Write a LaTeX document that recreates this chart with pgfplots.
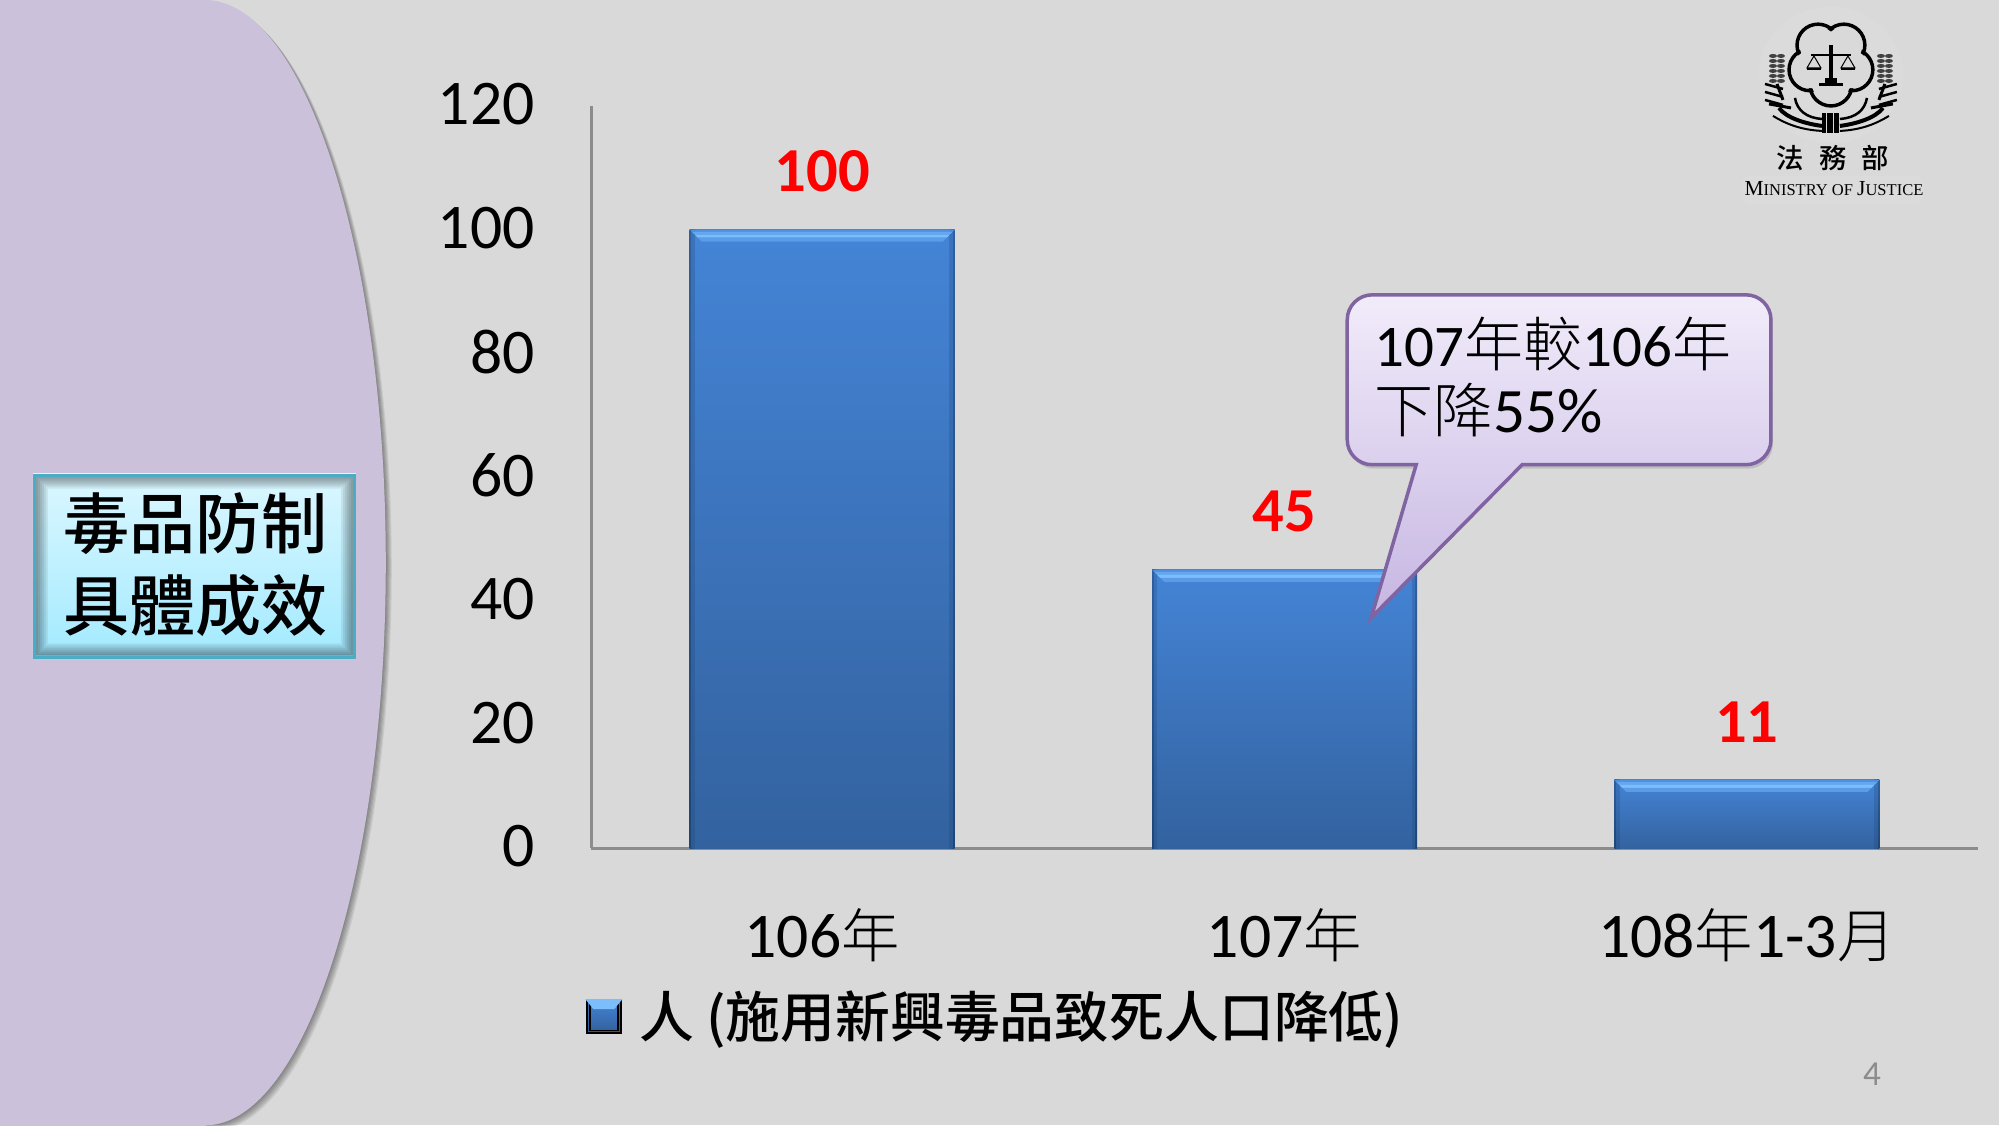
\documentclass[border=0pt]{standalone}
\usepackage{fontspec}
\usepackage{pgfplots}
\pgfplotsset{compat=1.18}
\setmainfont{Carlito}
\newfontfamily\cjk{Noto Sans CJK TC Light}
\newfontfamily\cjkm{Noto Sans CJK TC Medium}
\newfontfamily\logocjk{Noto Sans CJK TC Medium}
\newfontfamily\logoserif{Liberation Serif}
\newcommand{\cj}[1]{{\cjk #1}}
\newcommand{\cjs}[1]{{\cjk\fontsize{16.6}{20}\selectfont #1}}
\definecolor{slidebg}{HTML}{D9D9D9}
\definecolor{lav}{HTML}{CBC1DA}
\definecolor{callborder}{HTML}{8064A2}
\definecolor{calltop}{HTML}{F1ECFA}
\definecolor{callbot}{HTML}{C6B6E2}
\definecolor{axisgray}{HTML}{8C8C8C}
\definecolor{boxtop}{HTML}{DBF7FF}
\definecolor{boxbot}{HTML}{A3EAFF}
\definecolor{boxline}{HTML}{4BACC6}
\definecolor{bartop}{HTML}{4484D6}
\definecolor{barbot}{HTML}{33629F}
\definecolor{sidetop}{HTML}{2F5F9F}
\definecolor{sidebot}{HTML}{1E4677}
\definecolor{midtop}{HTML}{3A73BC}
\definecolor{midbot}{HTML}{2C5A93}
\definecolor{bev1}{HTML}{4F8FDF}
\definecolor{bev2}{HTML}{65A8EE}
\definecolor{bev3}{HTML}{7CBDFB}
\definecolor{bev4}{HTML}{5B9CE6}
% bevel on top of each bar, in slices
\newcommand{\bevslice}[5]{%
  \pgfsetfillcolor{#5}%
  \pgfpathmoveto{\pgfpoint{-#2cm}{-#1cm}}%
  \pgflineto{\pgfpoint{#2cm}{-#1cm}}%
  \pgflineto{\pgfpoint{#4cm}{-#3cm}}%
  \pgflineto{\pgfpoint{-#4cm}{-#3cm}}%
  \pgfclosepath\pgfusepath{fill}}
\pgfdeclareplotmark{bevel}{%
  \bevslice{0}{1.325}{0.02}{1.305}{bev1}%
  \bevslice{0.02}{1.305}{0.05}{1.275}{bev2}%
  \bevslice{0.05}{1.275}{0.08}{1.245}{bev3}%
  \bevslice{0.08}{1.245}{0.12}{1.205}{bev4}}
\pgfplotsset{
  barlayer/.style n args={3}{ybar, bar shift=0pt, forget plot, draw=none,
    bar width=#1, top color=#2, bottom color=#3},
}
% one bar: dark sides, then the body with its bevel and label
\newcommand{\onebar}[1]{%
  \addplot[barlayer={2.65cm}{sidetop}{sidebot}] coordinates {#1};
  \addplot[barlayer={2.61cm}{midtop}{midbot}] coordinates {#1};
  \addplot[barlayer={2.54cm}{bartop}{barbot},
    mark=bevel, mark options={draw=none},
    nodes near coords,
    nodes near coords style={font=\bfseries\fontsize{17.8}{21}\selectfont,text=red,anchor=south,yshift=0.25cm},
  ] coordinates {#1};
}
\begin{document}
\begin{tikzpicture}
\useasboundingbox (0,0) rectangle (20,-11.26);
\begin{scope}[x=0.01cm,y=-0.01cm]
  \clip (0,0) rectangle (2000,1126);
  \fill[slidebg] (0,0) rectangle (2000,1126);
  % side shape
  \foreach \s in {1,2,3,4,5,6}
    \fill[black,opacity=0.07] (205+\s,563+\s) ellipse [x radius=181, y radius=563];
  \fill[lav] (205,563) ellipse [x radius=181, y radius=563];
  \fill[lav] (0,-10) rectangle (206,1136);
  % title box
  \fill[top color=boxtop,bottom color=boxbot] (33,474) rectangle (356,659);
  \foreach \i in {2,4,6,8,10,12}
    \fill[black,opacity=0.07,even odd rule] (36,477) rectangle (353,656) (36+\i,477+\i) rectangle (353-\i,656-\i);
  \draw[boxline,line width=0.03cm] (34.5,475.5) rectangle (354.5,657.5);
  \node[font=\cjkm\fontsize{18.8}{23.2}\selectfont,align=center] at (196,565) {毒品防制\\具體成效};
\end{scope}

\begin{axis}[
  at={(5.91cm,-8.48cm)}, anchor=south west,
  scale only axis, width=13.87cm, height=7.42cm,
  xmin=-0.5, xmax=2.5, ymin=0, ymax=120,
  axis x line*=bottom, axis y line*=left,
  axis line style={-, draw=axisgray, line width=0.03cm},
  major tick length=0pt,
  ytick={0,20,...,120},
  xtick={0,1,2},
  xticklabels={106\cjs{年},107\cjs{年},108\cjs{年}1-3\cjs{月}},
  /pgf/number format/assume math mode=true,
  tick label style={font=\fontsize{18.1}{21}\selectfont},
  y tick label style={xshift=-0.44cm,yshift=0.015cm},
  x tick label style={yshift=-0.485cm},
  legend style={at={(-0.004,-0.227)},anchor=west,draw=none,fill=none,
    font=\cjkm\fontsize{15.6}{19}\selectfont,inner sep=0pt},
  legend image code/.code={
    \fill[top color=midtop,bottom color=midbot] (0cm,-0.165cm) rectangle (0.34cm,0.165cm);
    \fill[top color=bartop,bottom color=barbot] (0.03cm,-0.14cm) rectangle (0.31cm,0.165cm);
    \fill[bev3] (0cm,0.165cm) -- (0.34cm,0.165cm) -- (0.27cm,0.08cm) -- (0.07cm,0.08cm) -- cycle;
    \path (0.445cm,0cm);
  },
]
\onebar{(0,100)}
\onebar{(1,45)}
\onebar{(2,11)}
\addlegendimage{}
\addlegendentry{人 (施用新興毒品致死人口降低)}
\end{axis}

\begin{scope}[x=0.01cm,y=-0.01cm]
  % callout
  \fill[black,opacity=0.12,rounded corners=0.25cm,xshift=0.02cm,yshift=-0.04cm]
    (1348,380)--(1348,295)--(1772,295)--(1772,465)--(1348,465)--cycle;
  \path[draw=callborder,line width=0.035cm,top color=calltop,bottom color=callbot,rounded corners=0.25cm]
    (1348,380)--(1348,295)--(1772,295)--(1772,465)--(1600,465)
    [sharp corners]--(1523,465)--(1372,618)--(1417,465)--(1400,465)
    [rounded corners=0.25cm]--(1348,465)--cycle;
  \node[anchor=base west,inner sep=0,font=\fontsize{16.8}{20}\selectfont] at (1375,367) {107\cj{年較}106\cj{年}};
  \node[anchor=base west,inner sep=0,font=\fontsize{16.8}{20}\selectfont] at (1375,433) {\cj{下降}{\fontsize{18}{20}\selectfont 55\%}};
  % page number
  \node[text=axisgray,font=\fontsize{10}{12}\selectfont] at (1873,1075) {4};
  % emblem
  \fill[white,opacity=0.08] (1832,75) ellipse [x radius=72,y radius=68];
  \fill[white,opacity=0.08,rounded corners=0.1cm] (1742,176) rectangle (1925,204);
  \begin{scope}[shift={(1832,63)}]
    \foreach \a in {90,162,234,306,18}
      \draw[black,line width=0.035cm] (\a:22) circle [radius=21];
    \foreach \a in {90,162,234,306,18}
      \fill[slidebg] (\a:22) circle [radius=18.5];
    \fill[slidebg] (0,0) circle [radius=22];
    \draw[black,line width=0.035cm] (0,-18)--(0,20);
    \draw[black,line width=0.025cm] (-20,-8)--(20,-8);
    \fill[black] (-12,20) rectangle (12,23);
    \fill[black] (-6,15) rectangle (6,20);
    \foreach \s in {-1,1} {
      \draw[black,line width=0.01cm] (\s*17,-7)--(\s*24,5)--(\s*10,5)--cycle;
      \fill[black] (\s*10,5) rectangle (\s*24,7);
    }
  \end{scope}
  \foreach \s in {-1,1} {
    \begin{scope}[shift={(1832,0)},xscale=\s]
      \foreach \y in {56,61,...,81} {
        \fill[black!75] (50,\y) ellipse [x radius=4,y radius=2];
        \fill[black!75] (58,\y) ellipse [x radius=4,y radius=2];
      }
      \draw[black,line width=0.03cm] (54,84)--(48,100);
      \foreach \y in {84,92,100}
        \draw[black,line width=0.025cm] (48,\y+5)--(66,\y);
      \draw[black,line width=0.03cm] (40,108)--(62,104);
      \draw[black,line width=0.04cm] (9,126) .. controls (25,124) and (45,118) .. (52,108);
      \draw[black,line width=0.025cm] (9,119) .. controls (25,118) and (34,110) .. (36,98);
      \draw[black,line width=0.02cm] (9,131) .. controls (30,130) and (45,124) .. (58,116);
    \end{scope}
  }
  \fill[black] (1823,113) rectangle (1840,133);
  \draw[slidebg,line width=0.01cm] (1828,113)--(1828,133) (1835,113)--(1835,133);
  \node[font=\logocjk\fontsize{7.8}{9}\selectfont] at (1834,158) {法\hspace{0.55em}務\hspace{0.55em}部};
  \node[font=\logoserif\fontsize{4.7}{6}\selectfont] at (1835,189)
    {{\fontsize{6.1}{7}\selectfont M}INISTRY OF {\fontsize{6.1}{7}\selectfont J}USTICE};
\end{scope}
\end{tikzpicture}
\end{document}
